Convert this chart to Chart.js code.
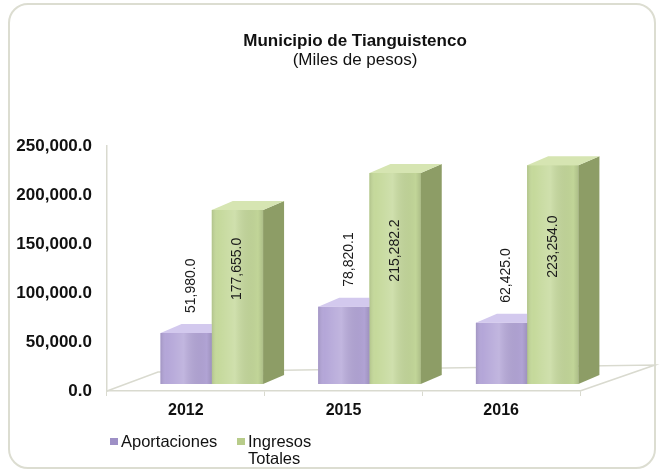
<!DOCTYPE html>
<html>
<head>
<meta charset="utf-8">
<script src="https://cdn.jsdelivr.net/npm/chart.js@4.4.1/dist/chart.umd.min.js"></script>
<style>
  body { margin: 0; background: #fff; font-family: "Liberation Sans", Arial, sans-serif; }
  #wrap { position: relative; width: 660px; height: 473px; }
  #frame { position: absolute; left: 8px; top: 3px; width: 644px; height: 462px;
           border: 2px solid #dcddd1; border-radius: 20px; }
  canvas { position: absolute; left: 0; top: 0; }
  .legend { position: absolute; top: 433px; font-size: 16.5px; color: #111; line-height: 17px; }
  .legend span.box { display: inline-block; width: 8px; height: 7px; margin-right: 3px; vertical-align: 2px; }
</style>
</head>
<body>
<div id="wrap">
  <div id="frame"></div>
  <canvas id="bar-chart" width="660" height="473"></canvas>
  <div class="legend" style="left:110px"><span class="box" style="background:#9e90c6"></span>Aportaciones</div>
  <div class="legend" style="left:237px"><span class="box" style="background:#b8cc8a"></span>Ingresos<br><span style="padding-left:11px">Totales</span></div>
</div>
<script>
const years = ['2012', '2015', '2016'];
const aportaciones = [51980.0, 78820.1, 62425.0];
const ingresosTotales = [177655.0, 215282.2, 223254.0];
const yTicks = [0, 50000, 100000, 150000, 200000, 250000];

const fmt = v => v.toLocaleString('en-US', { minimumFractionDigits: 1, maximumFractionDigits: 1 });

// 3d look: bars are pushed back into the floor, then get a top and a side face
const shift = { dx: 26, dy: -7 };
const depth = { dx: 21, dy: -9 };
const faces = [
  { front: '#b4a6d8', top: '#d3c9ee', side: '#9486bd' },
  { front: '#c5d99b', top: '#d6e5b2', side: '#8d9d66' }
];

function drawBox(ctx, bar, f) {
  const l = bar.x - bar.width / 2, r = bar.x + bar.width / 2;
  const t = bar.y, b = bar.base;
  // front with soft shading
  ctx.fillStyle = f.front;
  ctx.fillRect(l, t, r - l, b - t);
  const g = ctx.createLinearGradient(l, 0, r, 0);
  g.addColorStop(0, 'rgba(0,0,0,0.10)');
  g.addColorStop(0.12, 'rgba(255,255,255,0)');
  g.addColorStop(0.45, 'rgba(255,255,255,0.18)');
  g.addColorStop(0.9, 'rgba(0,0,0,0.02)');
  g.addColorStop(1, 'rgba(0,0,0,0.12)');
  ctx.fillStyle = g;
  ctx.fillRect(l, t, r - l, b - t);
  // side
  ctx.fillStyle = f.side;
  ctx.beginPath();
  ctx.moveTo(r, t);
  ctx.lineTo(r + depth.dx, t + depth.dy);
  ctx.lineTo(r + depth.dx, b + depth.dy);
  ctx.lineTo(r, b);
  ctx.closePath();
  ctx.fill();
  // top
  ctx.fillStyle = f.top;
  ctx.beginPath();
  ctx.moveTo(l, t);
  ctx.lineTo(l + depth.dx, t + depth.dy);
  ctx.lineTo(r + depth.dx, t + depth.dy);
  ctx.lineTo(r, t);
  ctx.closePath();
  ctx.fill();
}

const bar3d = {
  id: 'bar3d',
  beforeDatasetsDraw(chart) {
    const { ctx, chartArea: a } = chart;
    ctx.save();
    ctx.strokeStyle = '#d9dacf';
    ctx.lineWidth = 1.5;
    ctx.beginPath();
    ctx.moveTo(a.left, a.bottom);
    ctx.lineTo(a.left + 51, a.bottom - 19);
    ctx.lineTo(a.right + 75, a.bottom - 26);
    ctx.lineTo(a.right, a.bottom);
    ctx.stroke();
    ctx.restore();
    ctx.save();
    ctx.translate(shift.dx, shift.dy);
  },
  afterDatasetsDraw(chart) {
    const ctx = chart.ctx;
    // boxes drawn left to right so the taller green ones cover the purple depth
    years.forEach((y, i) => {
      drawBox(ctx, chart.getDatasetMeta(0).data[i], faces[0]);
      drawBox(ctx, chart.getDatasetMeta(1).data[i], faces[1]);
    });
    ctx.restore();

    ctx.save();
    ctx.font = '14px "Liberation Sans", Arial';
    ctx.fillStyle = '#1a1a1a';
    ctx.textBaseline = 'middle';
    chart.getDatasetMeta(0).data.forEach((bar, i) => {
      ctx.save();
      ctx.translate(bar.x + shift.dx + 5, bar.y + shift.dy - 20);
      ctx.rotate(-Math.PI / 2);
      ctx.textAlign = 'left';
      ctx.fillText(fmt(aportaciones[i]), 0, 0);
      ctx.restore();
    });
    chart.getDatasetMeta(1).data.forEach((bar, i) => {
      ctx.save();
      ctx.translate(bar.x + shift.dx, (bar.y + bar.base) / 2 + shift.dy - 28);
      ctx.rotate(-Math.PI / 2);
      ctx.textAlign = 'center';
      ctx.fillText(fmt(ingresosTotales[i]), 0, 0);
      ctx.restore();
    });
    // title
    ctx.fillStyle = '#111';
    ctx.textAlign = 'center';
    ctx.font = 'bold 17px "Liberation Sans", Arial';
    ctx.fillText('Municipio de Tianguistenco', 355, 41);
    ctx.font = '17px "Liberation Sans", Arial';
    ctx.fillText('(Miles de pesos)', 355, 60);
    ctx.restore();
  }
};

let config = {
  type: 'bar',
  data: {
    labels: years,
    datasets: [
      {
        label: 'Aportaciones',
        data: aportaciones,
        backgroundColor: faces[0].front,
        clip: false
      },
      {
        label: 'Ingresos Totales',
        data: ingresosTotales,
        backgroundColor: faces[1].front,
        clip: false
      }
    ]
  },
  options: {
    responsive: false,
    animation: false,
    layout: { padding: { top: 146, right: 80, bottom: 47, left: 0 } },
    datasets: { bar: { categoryPercentage: 0.65, barPercentage: 1 } },
    plugins: {
      legend: { display: false },
      tooltip: { enabled: false }
    },
    scales: {
      x: {
        afterFit: scale => { scale.height = 35; },
        grid: { display: true, drawOnChartArea: false, drawTicks: true, tickLength: 5, color: '#d9dacf' },
        border: { display: true, color: '#d9dacf', width: 1.5 },
        ticks: { color: '#111', padding: 5, font: { family: '"Liberation Sans", Arial', size: 16, weight: 'bold' } }
      },
      y: {
        min: 0,
        max: 250000,
        afterBuildTicks: scale => { scale.ticks = yTicks.map(v => ({ value: v })); },
        afterFit: scale => { scale.width = 107; },
        grid: { display: false, drawTicks: false },
        border: { display: true, color: '#d9dacf', width: 1.5 },
        ticks: {
          color: '#111',
          padding: 15,
          font: { family: '"Liberation Sans", Arial', size: 17, weight: 'bold' },
          callback: v => fmt(v)
        }
      }
    }
  },
  plugins: [bar3d]
};

let ctx = document.getElementById('bar-chart').getContext('2d');
window.myBar = new Chart(ctx, config);
</script>
</body>
</html>
